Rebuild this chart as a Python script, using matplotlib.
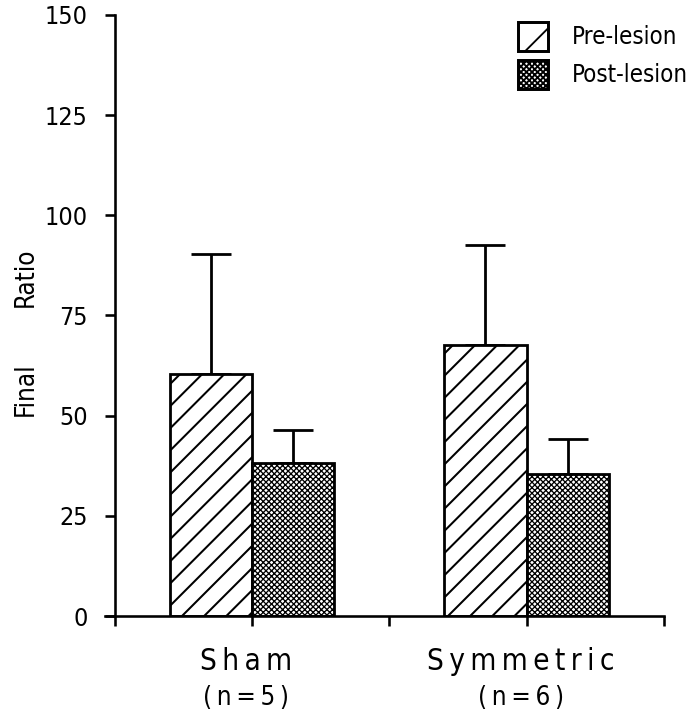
import matplotlib
matplotlib.use("Agg")
import matplotlib.pyplot as plt
from matplotlib.patches import Patch
import numpy as np

# data
groups = ["S\u2009h\u2009a\u2009m", "S\u2009y\u2009m\u2009m\u2009e\u2009t\u2009r\u2009i\u2009c"]
group_n = ["(\u2009n\u2009=\u20095\u2009)", "(\u2009n\u2009=\u20096\u2009)"]
series = ["Pre-lesion", "Post-lesion"]
pre_mean = [60.5, 67.75]
pre_err = [29.75, 24.75]
post_mean = [38.25, 35.5]
post_err = [8.25, 8.75]
y_ticks = [0, 25, 50, 75, 100, 125, 150]
x_ticks = [0, 1, 2, 3, 4]
group_pos = [1, 3]

DPI = 688 / 5.16
plt.rcParams['font.family'] = ['DejaVu Sans']
plt.rcParams['font.stretch'] = 'condensed'

fig = plt.figure(figsize=(5.16, 5.4), dpi=DPI)
ax = fig.add_axes([105 / 688, 104 / 720, 559 / 688, 601 / 720])

w = 0.6
x = np.array(group_pos, dtype=float)

with plt.rc_context({'hatch.linewidth': 1.1}):
    b1 = ax.bar(x, pre_mean, width=-w, align='edge', color='white',
                edgecolor='black', linewidth=1.5, hatch='//', zorder=2)
with plt.rc_context({'hatch.linewidth': 0.7}):
    b2 = ax.bar(x, post_mean, width=w, align='edge', color='white',
                edgecolor='black', linewidth=1.5, hatch='xxxxxxxx', zorder=2)

# upward error bars only
ax.errorbar(x - w / 2, pre_mean, yerr=[np.zeros(2), pre_err], fmt='none',
            ecolor='black', elinewidth=1.5, capsize=11, capthick=1.5, zorder=1)
ax.errorbar(x + w / 2, post_mean, yerr=[np.zeros(2), post_err], fmt='none',
            ecolor='black', elinewidth=1.5, capsize=11, capthick=1.5, zorder=1)

ax.set_xlim(-0.07, 4.0)
ax.set_ylim(0, 150)
ax.spines['top'].set_visible(False)
ax.spines['right'].set_visible(False)
ax.spines['left'].set_position(('data', 0))
for s in ['left', 'bottom']:
    ax.spines[s].set_linewidth(1.4)

ax.set_yticks(y_ticks)
ax.set_yticklabels([str(t) for t in y_ticks], fontsize=13.5)
ax.set_xticks(x_ticks)
ax.set_xticklabels([])
ax.tick_params(axis='both', direction='out', length=5.5, width=1.4, pad=9)

for gx, name, n in zip(group_pos, groups, group_n):
    ax.text(gx - 0.04, -0.075, name, transform=ax.get_xaxis_transform(),
            ha='center', va='center', fontsize=16)
    ax.text(gx - 0.04, -0.137, n, transform=ax.get_xaxis_transform(),
            ha='center', va='center', fontsize=14)

fig.text(26 / 688, 1 - 389 / 720, "Final", rotation=90, ha='center', va='center', fontsize=14)
fig.text(26 / 688, 1 - 277 / 720, "Ratio", rotation=90, ha='center', va='center', fontsize=14)

with plt.rc_context({'hatch.linewidth': 1.1}):
    h1 = Patch(facecolor='white', edgecolor='black', hatch='/', linewidth=1.6)
with plt.rc_context({'hatch.linewidth': 0.7}):
    h2 = Patch(facecolor='white', edgecolor='black', hatch='xxxxxxxx', linewidth=1.6)
ax.legend([h1, h2], series, loc='upper left', bbox_to_anchor=(518 / 688, 1 - 22 / 720),
          bbox_transform=fig.transFigure, frameon=False, fontsize=13,
          handlelength=1.25, handleheight=1.45, handletextpad=1.0,
          labelspacing=0.4, borderpad=0, borderaxespad=0)

fig.savefig("out.png", dpi=DPI)
